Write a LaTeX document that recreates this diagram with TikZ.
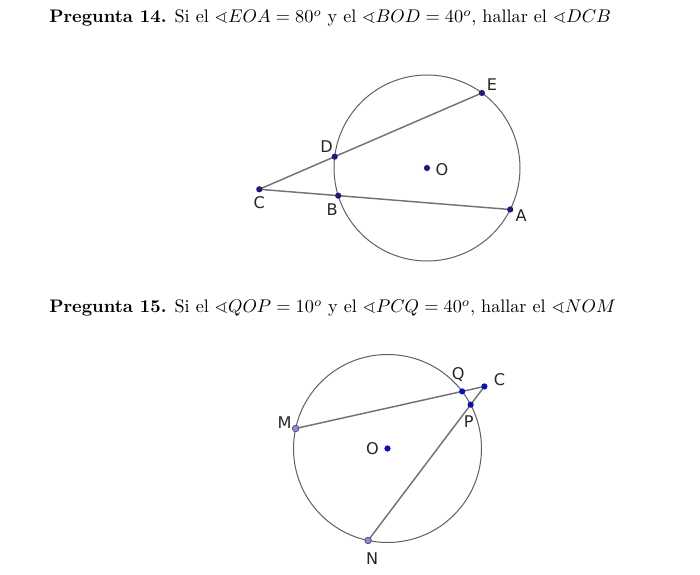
\documentclass[tikz,border=0pt]{standalone}
\usepackage{amssymb}
\usepackage{fontspec}
\newfontfamily\geofont{DejaVu Sans}
\usetikzlibrary{calc}

\definecolor{ptnavy}{HTML}{1C1C7A}
\definecolor{ptblue}{HTML}{1010B0}
\definecolor{freefill}{HTML}{8C8CC8}
\definecolor{freedraw}{HTML}{4A4A90}

\begin{document}
\begin{tikzpicture}[x=0.546pt, y=0.546pt,
  every node/.style={inner sep=0pt},
  circ/.style={draw=black!62, line width=0.55pt},
  seg/.style={draw=black!55, line width=0.8pt},
  pt/.style={circle, fill=#1, minimum size=3.4pt},
  pt/.default=ptnavy,
  freept/.style={circle, draw=freedraw, fill=freefill, minimum size=3.6pt, line width=0.4pt},
  lbl/.style={font=\geofont\fontsize{8.8}{10}\selectfont, text=black!85},
  title/.style={anchor=base west, font=\fontsize{9.9}{12}\selectfont},
]

\useasboundingbox (0,0) rectangle (700,574);

% Pregunta 14
\node[title] (t14) at (49,551.3) {\textbf{Pregunta 14.} Si el $\sphericalangle EOA=80^o$ y el $\sphericalangle BOD=40^o$, hallar el $\sphericalangle DCB$};

\coordinate (O1) at (427,406);
\coordinate (E) at ($(O1)+(53.8:93)$);
\coordinate (A) at ($(O1)+(-26.5:93)$);
\coordinate (D) at ($(O1)+(173:93)$);
\coordinate (B) at ($(O1)+(197.3:93)$);
\coordinate (C1) at (intersection of E--D and A--B);

\draw[circ] (O1) circle (93);
\draw[seg] (C1) -- (E);
\draw[seg] (C1) -- (A);

\node[pt] (dO1) at (O1) {};
\node[pt] (dE) at (E) {};
\node[pt] (dA) at (A) {};
\node[pt] (dD) at (D) {};
\node[pt] (dB) at (B) {};
\node[pt] (dC1) at (C1) {};

\node[lbl] (lE) at ($(E)+(10,8)$) {E};
\node[lbl] (lD) at ($(D)+(-8,10)$) {D};
\node[lbl] (lO1) at ($(O1)+(15,-2)$) {O};
\node[lbl] (lC1) at ($(C1)+(0,-13)$) {C};
\node[lbl] (lB) at ($(B)+(-6,-14)$) {B};
\node[lbl] (lA) at ($(A)+(11,-6)$) {A};

% Pregunta 15
\node[title] (t15) at (49,261) {\textbf{Pregunta 15.} Si el $\sphericalangle QOP=10^o$ y el $\sphericalangle PCQ=40^o$, hallar el $\sphericalangle NOM$};

\coordinate (O2) at (387.5,125.5);
\coordinate (M) at ($(O2)+(167.7:94)$);
\coordinate (N) at ($(O2)+(258.1:94)$);
\coordinate (Q) at ($(O2)+(37.4:94)$);
\coordinate (P) at ($(O2)+(27.8:94)$);
\coordinate (C2) at (intersection of M--Q and N--P);

\draw[circ] (O2) circle (94);
\draw[seg] (M) -- (C2);
\draw[seg] (N) -- (C2);

\node[pt=ptblue] (dO2) at (O2) {};
\node[pt=ptblue] (dQ) at (Q) {};
\node[pt=ptblue] (dP) at (P) {};
\node[pt=ptblue] (dC2) at (C2) {};
\node[freept] (dM) at (M) {};
\node[freept] (dN) at (N) {};

\node[lbl] (lQ) at ($(Q)+(-4,17)$) {Q};
\node[lbl] (lC2) at ($(C2)+(15,7)$) {C};
\node[lbl] (lP) at ($(P)+(-2,-17)$) {P};
\node[lbl] (lM) at ($(M)+(-11,6)$) {M};
\node[lbl] (lO2) at ($(O2)+(-15,0)$) {O};
\node[lbl] (lN) at ($(N)+(4,-18)$) {N};

\end{tikzpicture}
\end{document}
